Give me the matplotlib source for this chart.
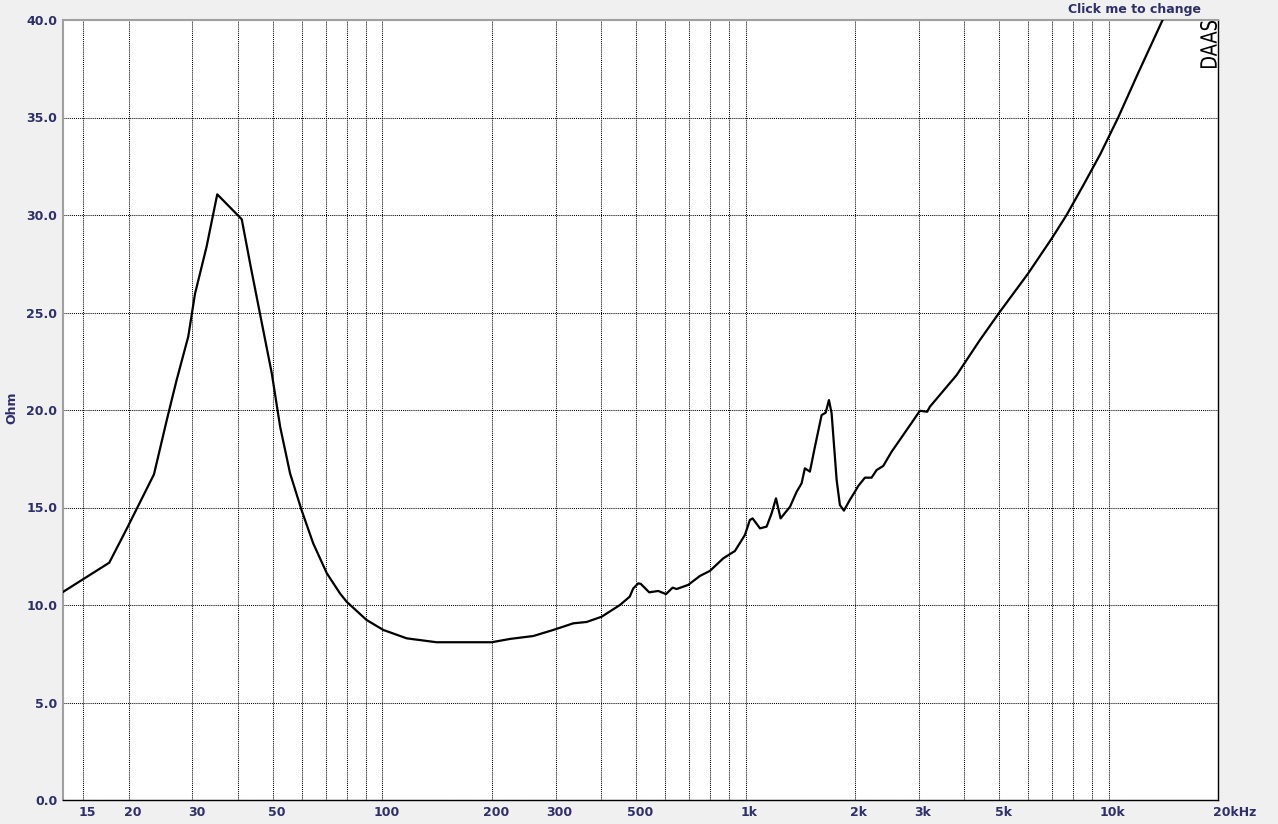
import matplotlib.pyplot as plt
import matplotlib.transforms as mtransforms
from matplotlib.textpath import TextPath
from matplotlib.patches import PathPatch
from matplotlib.font_manager import FontProperties

# impedance curve
freq = [13.2, 17.7, 19.8, 23.5, 25.5, 27.1, 29.2, 30.5, 32.8, 35.1,
        41.0, 43.4, 46.0, 49.6, 52.3, 55.7, 59.9, 64.5, 70.3, 76.4,
        79.7, 90.5, 100.6, 116.7, 141, 200, 224.6, 260.4, 295.5, 335.5,
        365.3, 401.7, 451, 480, 490.7, 506.6, 515, 543, 575, 604,
        630, 646, 695, 749, 798, 868, 935, 996, 1028, 1046,
        1096, 1143, 1180, 1213, 1249, 1326, 1383, 1427, 1457, 1504,
        1553, 1620, 1662, 1697, 1726, 1782, 1819, 1866, 1939, 2001,
        2043, 2132, 2224, 2296, 2394, 2525, 2777, 3021, 3164, 3219,
        3813, 4420, 5000, 6000, 7000, 7658, 8500, 9500, 10622, 12000,
        14075, 14400]
ohm = [10.67, 12.17, 13.93, 16.7, 19.5, 21.5, 23.76, 25.98, 28.37, 31.06,
       29.78, 27.35, 24.96, 21.88, 19.14, 16.75, 14.87, 13.16, 11.63, 10.6,
       10.17, 9.23, 8.72, 8.29, 8.09, 8.09, 8.26, 8.41, 8.72, 9.06,
       9.13, 9.40, 10.0, 10.43, 10.85, 11.11, 11.08, 10.65, 10.72, 10.56,
       10.89, 10.82, 11.03, 11.49, 11.75, 12.39, 12.77, 13.59, 14.36, 14.44,
       13.93, 14.02, 14.7, 15.47, 14.44, 15.04, 15.81, 16.24, 17.01, 16.84,
       18.12, 19.74, 19.86, 20.51, 19.83, 16.41, 15.13, 14.84, 15.4, 15.81,
       16.1, 16.53, 16.53, 16.92, 17.13, 17.86, 18.97, 19.96, 19.91, 20.17,
       21.79, 23.59, 25.0, 27.0, 28.85, 30.0, 31.5, 33.15, 35.0, 37.2,
       40.0, 40.4]

xtick_freqs = [15, 20, 30, 50, 100, 200, 300, 500, 1000, 2000, 3000, 5000, 10000, 20000]
xtick_labels = ['15', '20', '30', '50', '100', '200', '300', '500',
                '1k', '2k', '3k', '5k', '10k', '20kHz']
grid_freqs = ([15] + [m * 10 ** k for k in range(1, 4)
                      for m in range(2 if k == 1 else 1, 10)] + [10000])
yticks = [0, 5, 10, 15, 20, 25, 30, 35, 40]

navy = '#2e2e6c'
W, H = 1278, 824

fig = plt.figure(figsize=(W / 100, H / 100), dpi=100, facecolor='#f0f0f0')
ax = fig.add_axes([63 / W, 24 / H, (1218 - 63) / W, (800 - 20) / H])
ax.set_facecolor('white')

ax.plot(freq, ohm, color='black', lw=1.6, zorder=3)

ax.set_xscale('log')
ax.set_xticks(xtick_freqs)
ax.set_xticklabels(xtick_labels)
ax.set_xticks(grid_freqs, minor=True)
ax.xaxis.set_minor_formatter(plt.NullFormatter())
ax.set_yticks(yticks)
ax.set_yticklabels(['%.1f' % v for v in yticks])
ax.set_xlim(13.2, 20000)
ax.set_ylim(0, 40)

ax.grid(True, which='both', axis='x', color='black', lw=0.75, linestyle=(0, (1, 1)))
ax.grid(True, which='major', axis='y', color='black', lw=0.75, linestyle=(0, (1, 1)))

ax.tick_params(which='both', length=0)
ax.tick_params(axis='x', pad=4, labelsize=9, labelcolor=navy)
ax.tick_params(axis='y', pad=4, labelsize=9, labelcolor=navy)
for lab in ax.get_xticklabels() + ax.get_yticklabels():
    lab.set_fontweight('bold')

# nudge x labels like the original
shift = mtransforms.ScaledTranslation(4 / 100, 0, fig.dpi_scale_trans)
xl = ax.get_xticklabels()
for lab in xl[:-1]:
    lab.set_transform(lab.get_transform() + shift)
xl[-1].set_ha('left')
xl[-1].set_transform(xl[-1].get_transform()
                     + mtransforms.ScaledTranslation(-5 / 100, 0, fig.dpi_scale_trans))

# spines
for s in ['left', 'top']:
    ax.spines[s].set_color('#a0a0a0')
    ax.spines[s].set_linewidth(1.5)
for s in ['bottom', 'right']:
    ax.spines[s].set_color('black')
    ax.spines[s].set_linewidth(1.0)

fig.text(12 / W, 1 - 408 / H, 'Ohm', rotation=90, ha='center', va='center',
         color=navy, fontsize=9, fontweight='bold')
fig.text(1201 / W, 1 - 9 / H, 'Click me to change', ha='right', va='center',
         color=navy, fontsize=9, fontweight='bold')

# DAAS watermark, squeezed to the original box
tp = TextPath((0, 0), 'DAAS', size=1, prop=FontProperties(family='DejaVu Sans'))
ext = tp.get_extents()
tr = (mtransforms.Affine2D()
      .translate(-ext.x0, -ext.y0)
      .scale(47 / ext.width, 17 / ext.height)
      .rotate_deg(90)
      .translate(1217, H - 68))
fig.patches.append(PathPatch(tr.transform_path(tp), color='black', lw=0,
                             transform=mtransforms.IdentityTransform(),
                             figure=fig))

fig.savefig('out.png', dpi=100, facecolor=fig.get_facecolor())
